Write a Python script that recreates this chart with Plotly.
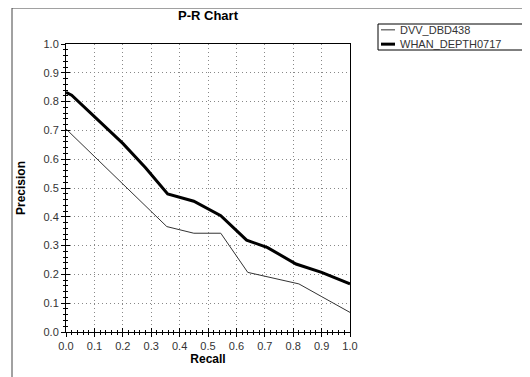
import plotly.graph_objects as go

recall_dvv = [0.0, 0.355, 0.45, 0.545, 0.64, 0.72, 0.82, 0.9, 1.0]
prec_dvv = [0.705, 0.366, 0.343, 0.343, 0.207, 0.19, 0.167, 0.123, 0.068]

recall_whan = [0.0, 0.02, 0.2, 0.28, 0.358, 0.45, 0.545, 0.636, 0.71, 0.81, 0.9, 1.0]
prec_whan = [0.832, 0.822, 0.655, 0.57, 0.479, 0.454, 0.404, 0.319, 0.293, 0.236, 0.207, 0.167]

names = ["DVV_DBD438", "WHAN_DEPTH0717"]
tick_vals = [i / 10 for i in range(11)]
tick_text = ["%.1f" % v for v in tick_vals]

# page body has an 8px margin; figure is sized to fill the rest of the window
W, H = 522, 369
PL, PR, PT, PB = 58, 342, 36, 324  # plot area in figure px
pw, ph = PR - PL, PB - PT

def px(x):
    return (x - 8 - PL) / pw

def py(y):
    return (PB - (y - 8)) / ph

colors = ["#333333", "#000000"]
widths = [1, 3]

fig = go.Figure()
fig.add_trace(go.Scatter(x=recall_dvv, y=prec_dvv, mode="lines", name=names[0],
                         line=dict(color=colors[0], width=widths[0])))
fig.add_trace(go.Scatter(x=recall_whan, y=prec_whan, mode="lines", name=names[1],
                         line=dict(color=colors[1], width=widths[1])))
fig.add_trace(go.Scatter(x=[0], y=[0], xaxis="x2", yaxis="y2", mode="markers",
                         marker=dict(opacity=0), showlegend=False, hoverinfo="skip"))

axis_font = dict(family="Liberation Sans, Arial", size=11, color="#333333")
common = dict(range=[0, 1], tickvals=tick_vals, ticktext=tick_text,
              showgrid=True, gridcolor="#888888", griddash="1px,3px", gridwidth=1,
              zeroline=False, showline=True, linecolor="#000000", linewidth=1,
              mirror=True, ticks="outside", ticklen=4, tickcolor="#000000",
              tickfont=axis_font,
              minor=dict(dtick=0.02, ticks="outside", ticklen=2, tickcolor="#000000",
                         showgrid=False))
title_font = dict(family="Liberation Sans, Arial", size=12, color="#000000")

# compact boxed legend (drawn as shapes + one two-line text)
fs = 11
lh = 1.3 * fs
cy = 37
row_y = [cy - lh / 2, cy + lh / 2]
shapes = [dict(type="rect", xref="paper", yref="paper",
               x0=px(12), x1=px(545), y0=py(400), y1=py(8),
               line=dict(color="#444444", width=1), layer="below"),
          dict(type="rect", xref="paper", yref="paper",
               x0=px(378), x1=px(528), y0=py(cy + 13), y1=py(cy - 13),
               line=dict(color="#000000", width=1), fillcolor="white")]
for i in range(len(names)):
    shapes.append(dict(type="line", xref="paper", yref="paper",
                       x0=px(381), x1=px(395), y0=py(row_y[i]), y1=py(row_y[i]),
                       line=dict(color=colors[i], width=widths[i])))
annotations = [dict(text="<br>".join(names), xref="paper", yref="paper",
                    x=px(398), y=py(cy), xanchor="left", yanchor="middle", align="left",
                    showarrow=False,
                    font=dict(family="Liberation Sans, Arial", size=fs, color="#333333"))]

fig.update_layout(
    width=W, height=H,
    margin=dict(l=PL, r=W - PR, t=PT, b=H - PB),
    paper_bgcolor="white", plot_bgcolor="white",
    title=dict(text="<b>P-R Chart</b>", x=(PL + PR) / 2 / W, xanchor="center",
               y=1 - 7 / H, yanchor="middle",
               font=dict(family="Liberation Sans, Arial", size=13, color="#000000")),
    xaxis=dict(**common, title=dict(text="<b>Recall</b>", standoff=3, font=title_font)),
    yaxis=dict(**common, title=dict(text="<b>Precision</b>", standoff=15, font=title_font)),
    xaxis2=dict(overlaying="x", anchor="y", side="bottom", range=[0, 1], dtick=0.1,
                showticklabels=False, showgrid=False, zeroline=False, showline=False,
                ticks="inside", ticklen=4, tickcolor="#000000",
                minor=dict(dtick=0.02, ticks="inside", ticklen=2, tickcolor="#000000")),
    yaxis2=dict(overlaying="y", anchor="x", side="left", range=[0, 1], dtick=0.1,
                showticklabels=False, showgrid=False, zeroline=False, showline=False,
                ticks="inside", ticklen=4, tickcolor="#000000",
                minor=dict(dtick=0.02, ticks="inside", ticklen=2, tickcolor="#000000")),
    showlegend=False,
    shapes=shapes,
    annotations=annotations,
)

fig.write_html("out.html")
